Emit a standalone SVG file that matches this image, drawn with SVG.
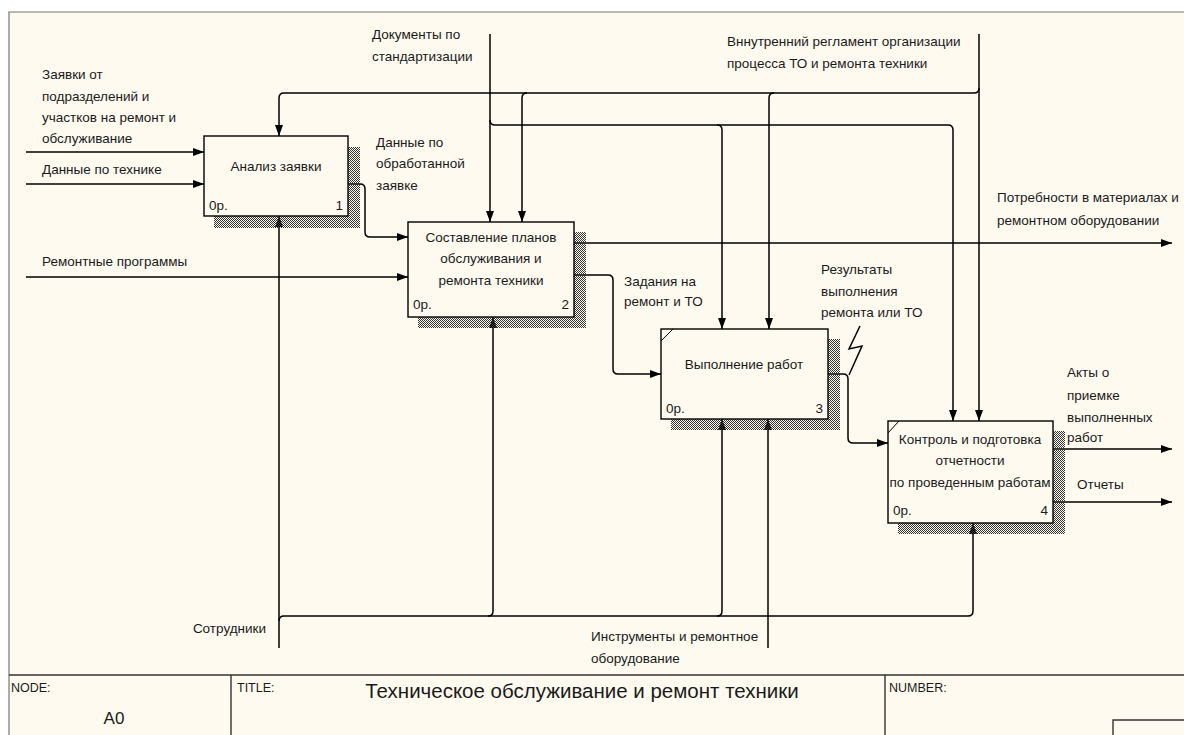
<svg xmlns="http://www.w3.org/2000/svg" width="1184" height="735" viewBox="0 0 1184 735">
<style>
text{font-family:"Liberation Sans",Arial,sans-serif;font-size:13.5px;fill:#1a1a1a}
.box{fill:#FFFAF0;stroke:#000;stroke-width:1.4}
.shadow{fill:url(#hatch)}
.c{fill:none;stroke:#000;stroke-width:1.5}
.a{marker-end:url(#arr)}
.mid{text-anchor:middle}
.end{text-anchor:end}
.tb{font-size:12.5px}
.frame{fill:none;stroke:#777;stroke-width:1.2}
.tl{stroke:#333;stroke-width:1.4}
</style>
<defs>
<pattern id="hatch" width="2" height="2" patternUnits="userSpaceOnUse">
<rect width="1" height="1" fill="#333"/><rect x="1" y="1" width="1" height="1" fill="#333"/>
</pattern>
<marker id="arr" markerWidth="11" markerHeight="8" refX="11" refY="4" orient="auto" markerUnits="userSpaceOnUse">
<path d="M0,0 L11,4 L0,8 z" fill="#000"/>
</marker>
</defs>
<rect width="1184" height="735" fill="#fff"/>
<rect x="9" y="12" width="1175" height="723" fill="#FFFAF0"/>
<path class="frame" d="M9,735 V12 H1184"/>

<g id="connectors">
<path class="c a" d="M26,152 H204"/>
<path class="c a" d="M26,184 H204"/>
<path class="c a" d="M26,277 H408"/>
<path class="c a" d="M348,184 H360 Q365,184 365,189 V232 Q365,237 370,237 H408"/>
<path class="c a" d="M574,243 H1172"/>
<path class="c a" d="M574,275 H608 Q613,275 613,280 V369 Q613,374 618,374 H661"/>
<path class="c a" d="M828,374 H843 Q848,374 848,379 V438 Q848,443 853,443 H888"/>
<path class="c a" d="M1053,449 H1172"/>
<path class="c a" d="M1053,502 H1172"/>
<path class="c a" d="M979,34 V421"/>
<path class="c a" d="M979,88 Q979,93 974,93 H284 Q279,93 279,98 V136"/>
<path class="c a" d="M527,93 Q522,93 522,98 V222"/>
<path class="c a" d="M774,93 Q769,93 769,98 V329"/>
<path class="c a" d="M490,34 V222"/>
<path class="c a" d="M490,120 Q490,125 495,125 H948 Q953,125 953,130 V421"/>
<path class="c a" d="M717,125 Q722,125 722,130 V329"/>
<path class="c a" d="M279,648 V216"/>
<path class="c a" d="M279,621 Q279,616 284,616 H968 Q973,616 973,611 V523"/>
<path class="c a" d="M488,616 Q493,616 493,611 V317"/>
<path class="c a" d="M717,616 Q722,616 722,611 V419"/>
<path class="c a" d="M768,648 V419"/>
<polyline class="c" points="860,326 849,349 862,346 849,375" stroke-width="1"/>
</g>

<g id="labels">
<text x="42" y="79">Заявки от</text>
<text x="42" y="101">подразделений и</text>
<text x="42" y="122">участков на ремонт и</text>
<text x="42" y="143">обслуживание</text>
<text x="42" y="174">Данные по технике</text>
<text x="42" y="266">Ремонтные программы</text>
<text x="372" y="39">Документы по</text>
<text x="372" y="61">стандартизации</text>
<text x="727" y="46">Вннутренний регламент организации</text>
<text x="727" y="68">процесса ТО и ремонта техники</text>
<text x="376" y="147">Данные по</text>
<text x="376" y="168">обработанной</text>
<text x="376" y="190">заявке</text>
<text x="997" y="202">Потребности в материалах и</text>
<text x="997" y="225">ремонтном оборудовании</text>
<text x="624" y="286">Задания на</text>
<text x="624" y="306">ремонт и ТО</text>
<text x="821" y="274">Результаты</text>
<text x="821" y="296">выполнения</text>
<text x="821" y="317">ремонта или ТО</text>
<text x="1067" y="377">Акты о</text>
<text x="1067" y="400">приемке</text>
<text x="1067" y="422">выполненных</text>
<text x="1067" y="442">работ</text>
<text x="1077" y="489">Отчеты</text>
<text x="266" y="633" class="end">Сотрудники</text>
<text x="591" y="641">Инструменты и ремонтное</text>
<text x="591" y="663">оборудование</text>
</g>

<g id="box1">
<rect class="shadow" x="214" y="147" width="146" height="81"/>
<rect class="box" x="204" y="136" width="144" height="80"/>
<text x="276" y="171" class="mid">Анализ заявки</text>
<text x="209" y="210">0р.</text>
<text x="343" y="210" class="end">1</text>
</g>

<g id="box2">
<rect class="shadow" x="418" y="232" width="168" height="96"/>
<rect class="box" x="408" y="222" width="166" height="95"/>
<text x="491" y="242" class="mid">Составление планов</text>
<text x="491" y="263" class="mid">обслуживания и</text>
<text x="491" y="285" class="mid">ремонта техники</text>
<text x="413" y="309">0р.</text>
<text x="569" y="309" class="end">2</text>
</g>

<g id="box3">
<rect class="shadow" x="671" y="339" width="169" height="91"/>
<rect class="box" x="661" y="329" width="167" height="90"/>
<path d="M661,341 L673,329" stroke="#000" stroke-width="1"/>
<text x="744" y="369" class="mid">Выполнение работ</text>
<text x="666" y="413">0р.</text>
<text x="823" y="413" class="end">3</text>
</g>

<g id="box4">
<rect class="shadow" x="898" y="431" width="167" height="103"/>
<rect class="box" x="888" y="421" width="165" height="102"/>
<path d="M888,433 L899,421" stroke="#000" stroke-width="1"/>
<text x="970" y="444" class="mid">Контроль и подготовка</text>
<text x="970" y="465" class="mid">отчетности</text>
<text x="970" y="487" class="mid">по проведенным работам</text>
<text x="893" y="515">0р.</text>
<text x="1048" y="515" class="end">4</text>
</g>

<g id="titleblock">
<line class="tl" x1="9" y1="675" x2="1184" y2="675"/>
<line class="tl" x1="231" y1="675" x2="231" y2="735"/>
<line class="tl" x1="885" y1="675" x2="885" y2="735"/>
<path class="tl" d="M1113,735 V720 H1184" fill="none"/>
<text x="11" y="692" class="tb">NODE:</text>
<text x="114" y="724" class="mid" style="font-size:17px">A0</text>
<text x="237" y="692" class="tb">TITLE:</text>
<text x="582" y="698" class="mid" style="font-size:20.5px">Техническое обслуживание и ремонт техники</text>
<text x="889" y="692" class="tb">NUMBER:</text>
</g>
</svg>
